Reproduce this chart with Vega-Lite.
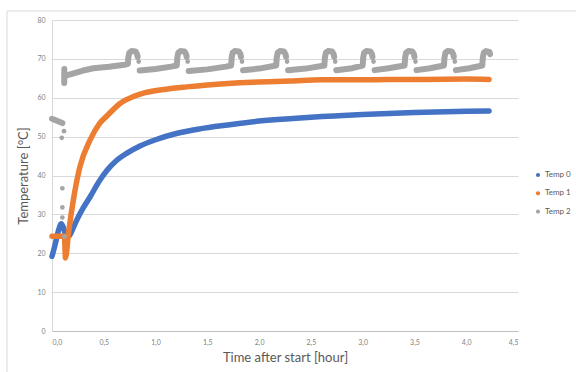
{
  "$schema": "https://vega.github.io/schema/vega-lite/v6.json",
  "width": 466,
  "height": 311,
  "autosize": {"type": "none"},
  "padding": {"left": 52, "top": 20, "right": 58, "bottom": 41},
  "background": "white",
  "config": {
    "view": {"stroke": null},
    "font": "Lato",
    "axis": {
      "labelFont": "Lato",
      "labelFontSize": 7,
      "labelColor": "#7F7F7F",
      "titleFont": "Lato",
      "titleFontSize": 13,
      "titleFontWeight": "normal",
      "titleColor": "#595959",
      "ticks": false
    }
  },
  "datasets": {
    "curves": [
      {"s": "Temp 0", "t": 0.0, "v": 19.2},
      {"s": "Temp 0", "t": 0.03, "v": 22.2},
      {"s": "Temp 0", "t": 0.06, "v": 25.6},
      {"s": "Temp 0", "t": 0.09, "v": 27.6},
      {"s": "Temp 0", "t": 0.11, "v": 26.6},
      {"s": "Temp 0", "t": 0.13, "v": 24.9},
      {"s": "Temp 0", "t": 0.15, "v": 24.3},
      {"s": "Temp 0", "t": 0.17, "v": 24.6},
      {"s": "Temp 0", "t": 0.2, "v": 26.2},
      {"s": "Temp 0", "t": 0.24, "v": 28.6},
      {"s": "Temp 0", "t": 0.3, "v": 31.6},
      {"s": "Temp 0", "t": 0.37, "v": 34.6},
      {"s": "Temp 0", "t": 0.45, "v": 38.3},
      {"s": "Temp 0", "t": 0.53, "v": 41.3},
      {"s": "Temp 0", "t": 0.62, "v": 43.8},
      {"s": "Temp 0", "t": 0.72, "v": 45.7},
      {"s": "Temp 0", "t": 0.85, "v": 47.6},
      {"s": "Temp 0", "t": 1.0, "v": 49.2},
      {"s": "Temp 0", "t": 1.2, "v": 50.8},
      {"s": "Temp 0", "t": 1.43, "v": 52.0},
      {"s": "Temp 0", "t": 1.7, "v": 53.0},
      {"s": "Temp 0", "t": 2.0, "v": 54.0},
      {"s": "Temp 0", "t": 2.5, "v": 55.0},
      {"s": "Temp 0", "t": 3.0, "v": 55.7},
      {"s": "Temp 0", "t": 3.5, "v": 56.2},
      {"s": "Temp 0", "t": 4.0, "v": 56.5},
      {"s": "Temp 0", "t": 4.22, "v": 56.6},
      {"s": "Temp 1", "t": 0.0, "v": 24.4},
      {"s": "Temp 1", "t": 0.06, "v": 24.4},
      {"s": "Temp 1", "t": 0.12, "v": 24.4},
      {"s": "Temp 1", "t": 0.13, "v": 18.8},
      {"s": "Temp 1", "t": 0.16, "v": 25.3},
      {"s": "Temp 1", "t": 0.206, "v": 33.7},
      {"s": "Temp 1", "t": 0.27, "v": 42.3},
      {"s": "Temp 1", "t": 0.367, "v": 49.1},
      {"s": "Temp 1", "t": 0.46, "v": 53.4},
      {"s": "Temp 1", "t": 0.53, "v": 55.3},
      {"s": "Temp 1", "t": 0.66, "v": 58.6},
      {"s": "Temp 1", "t": 0.785, "v": 60.3},
      {"s": "Temp 1", "t": 0.9, "v": 61.3},
      {"s": "Temp 1", "t": 1.1, "v": 62.2},
      {"s": "Temp 1", "t": 1.3, "v": 62.8},
      {"s": "Temp 1", "t": 1.5, "v": 63.3},
      {"s": "Temp 1", "t": 1.94, "v": 64.0},
      {"s": "Temp 1", "t": 2.3, "v": 64.3},
      {"s": "Temp 1", "t": 2.6, "v": 64.6},
      {"s": "Temp 1", "t": 3.0, "v": 64.6},
      {"s": "Temp 1", "t": 3.25, "v": 64.7},
      {"s": "Temp 1", "t": 3.6, "v": 64.7},
      {"s": "Temp 1", "t": 4.0, "v": 64.8},
      {"s": "Temp 1", "t": 4.22, "v": 64.7}
    ],
    "temp2": [
      {"s": "Temp 2", "g": 0, "t": 0.0, "v": 54.6},
      {"s": "Temp 2", "g": 0, "t": 0.1, "v": 53.5},
      {"s": "Temp 2", "g": 1, "t": 0.118, "v": 63.8},
      {"s": "Temp 2", "g": 1, "t": 0.119, "v": 67.4},
      {"s": "Temp 2", "g": 2, "t": 0.125, "v": 65.6},
      {"s": "Temp 2", "g": 2, "t": 0.2, "v": 66.2},
      {"s": "Temp 2", "g": 2, "t": 0.3, "v": 67.0},
      {"s": "Temp 2", "g": 2, "t": 0.4, "v": 67.6},
      {"s": "Temp 2", "g": 2, "t": 0.55, "v": 68.0},
      {"s": "Temp 2", "g": 2, "t": 0.7, "v": 68.5},
      {"s": "Temp 2", "g": 2, "t": 0.732, "v": 68.7},
      {"s": "Temp 2", "g": 2, "t": 0.737, "v": 70.3},
      {"s": "Temp 2", "g": 2, "t": 0.747, "v": 71.6},
      {"s": "Temp 2", "g": 2, "t": 0.767, "v": 72.0},
      {"s": "Temp 2", "g": 2, "t": 0.807, "v": 71.9},
      {"s": "Temp 2", "g": 2, "t": 0.822, "v": 71.2},
      {"s": "Temp 2", "g": 2, "t": 0.827, "v": 70.5},
      {"s": "Temp 2", "g": 3, "t": 0.847, "v": 67.0},
      {"s": "Temp 2", "g": 3, "t": 1.0, "v": 67.4},
      {"s": "Temp 2", "g": 3, "t": 1.15, "v": 68.0},
      {"s": "Temp 2", "g": 3, "t": 1.205, "v": 68.3},
      {"s": "Temp 2", "g": 3, "t": 1.21, "v": 70.3},
      {"s": "Temp 2", "g": 3, "t": 1.22, "v": 71.6},
      {"s": "Temp 2", "g": 3, "t": 1.24, "v": 72.0},
      {"s": "Temp 2", "g": 3, "t": 1.28, "v": 71.9},
      {"s": "Temp 2", "g": 3, "t": 1.295, "v": 71.2},
      {"s": "Temp 2", "g": 3, "t": 1.3, "v": 70.5},
      {"s": "Temp 2", "g": 4, "t": 1.32, "v": 66.9},
      {"s": "Temp 2", "g": 4, "t": 1.5, "v": 67.3},
      {"s": "Temp 2", "g": 4, "t": 1.68, "v": 68.0},
      {"s": "Temp 2", "g": 4, "t": 1.73, "v": 68.3},
      {"s": "Temp 2", "g": 4, "t": 1.735, "v": 70.3},
      {"s": "Temp 2", "g": 4, "t": 1.745, "v": 71.6},
      {"s": "Temp 2", "g": 4, "t": 1.765, "v": 72.0},
      {"s": "Temp 2", "g": 4, "t": 1.805, "v": 71.9},
      {"s": "Temp 2", "g": 4, "t": 1.82, "v": 71.2},
      {"s": "Temp 2", "g": 4, "t": 1.825, "v": 70.5},
      {"s": "Temp 2", "g": 5, "t": 1.845, "v": 67.1},
      {"s": "Temp 2", "g": 5, "t": 2.0, "v": 67.5},
      {"s": "Temp 2", "g": 5, "t": 2.165, "v": 68.3},
      {"s": "Temp 2", "g": 5, "t": 2.17, "v": 70.3},
      {"s": "Temp 2", "g": 5, "t": 2.18, "v": 71.6},
      {"s": "Temp 2", "g": 5, "t": 2.2, "v": 72.0},
      {"s": "Temp 2", "g": 5, "t": 2.24, "v": 71.9},
      {"s": "Temp 2", "g": 5, "t": 2.255, "v": 71.2},
      {"s": "Temp 2", "g": 5, "t": 2.26, "v": 70.5},
      {"s": "Temp 2", "g": 6, "t": 2.28, "v": 67.1},
      {"s": "Temp 2", "g": 6, "t": 2.45, "v": 67.5},
      {"s": "Temp 2", "g": 6, "t": 2.63, "v": 68.3},
      {"s": "Temp 2", "g": 6, "t": 2.635, "v": 70.3},
      {"s": "Temp 2", "g": 6, "t": 2.645, "v": 71.6},
      {"s": "Temp 2", "g": 6, "t": 2.665, "v": 72.0},
      {"s": "Temp 2", "g": 6, "t": 2.705, "v": 71.9},
      {"s": "Temp 2", "g": 6, "t": 2.72, "v": 71.2},
      {"s": "Temp 2", "g": 6, "t": 2.725, "v": 70.5},
      {"s": "Temp 2", "g": 7, "t": 2.745, "v": 67.1},
      {"s": "Temp 2", "g": 7, "t": 2.9, "v": 67.6},
      {"s": "Temp 2", "g": 7, "t": 3.0, "v": 68.3},
      {"s": "Temp 2", "g": 7, "t": 3.005, "v": 70.3},
      {"s": "Temp 2", "g": 7, "t": 3.015, "v": 71.6},
      {"s": "Temp 2", "g": 7, "t": 3.035, "v": 72.0},
      {"s": "Temp 2", "g": 7, "t": 3.075, "v": 71.9},
      {"s": "Temp 2", "g": 7, "t": 3.09, "v": 71.2},
      {"s": "Temp 2", "g": 7, "t": 3.095, "v": 70.5},
      {"s": "Temp 2", "g": 8, "t": 3.115, "v": 67.1},
      {"s": "Temp 2", "g": 8, "t": 3.25, "v": 67.6},
      {"s": "Temp 2", "g": 8, "t": 3.405, "v": 68.3},
      {"s": "Temp 2", "g": 8, "t": 3.41, "v": 70.3},
      {"s": "Temp 2", "g": 8, "t": 3.42, "v": 71.6},
      {"s": "Temp 2", "g": 8, "t": 3.44, "v": 72.0},
      {"s": "Temp 2", "g": 8, "t": 3.48, "v": 71.9},
      {"s": "Temp 2", "g": 8, "t": 3.495, "v": 71.2},
      {"s": "Temp 2", "g": 8, "t": 3.5, "v": 70.5},
      {"s": "Temp 2", "g": 9, "t": 3.52, "v": 67.1},
      {"s": "Temp 2", "g": 9, "t": 3.65, "v": 67.6},
      {"s": "Temp 2", "g": 9, "t": 3.785, "v": 68.3},
      {"s": "Temp 2", "g": 9, "t": 3.79, "v": 70.3},
      {"s": "Temp 2", "g": 9, "t": 3.8, "v": 71.6},
      {"s": "Temp 2", "g": 9, "t": 3.82, "v": 72.0},
      {"s": "Temp 2", "g": 9, "t": 3.86, "v": 71.9},
      {"s": "Temp 2", "g": 9, "t": 3.875, "v": 71.2},
      {"s": "Temp 2", "g": 9, "t": 3.88, "v": 70.5},
      {"s": "Temp 2", "g": 10, "t": 3.9, "v": 67.1},
      {"s": "Temp 2", "g": 10, "t": 4.03, "v": 67.6},
      {"s": "Temp 2", "g": 10, "t": 4.155, "v": 68.3},
      {"s": "Temp 2", "g": 10, "t": 4.16, "v": 70.3},
      {"s": "Temp 2", "g": 10, "t": 4.17, "v": 71.6},
      {"s": "Temp 2", "g": 10, "t": 4.19, "v": 72.0},
      {"s": "Temp 2", "g": 10, "t": 4.225, "v": 71.8},
      {"s": "Temp 2", "g": 10, "t": 4.23, "v": 71.2}
    ],
    "temp2dots": [
      {"s": "Temp 2", "t": 0.094, "v": 49.7},
      {"s": "Temp 2", "t": 0.116, "v": 51.4},
      {"s": "Temp 2", "t": 0.1, "v": 36.7},
      {"s": "Temp 2", "t": 0.1, "v": 31.8},
      {"s": "Temp 2", "t": 0.1, "v": 29.2},
      {"s": "Temp 2", "t": 0.12, "v": 24.3},
      {"s": "Temp 2", "t": 0.837, "v": 69.3},
      {"s": "Temp 2", "t": 1.31, "v": 69.3},
      {"s": "Temp 2", "t": 1.835, "v": 69.3},
      {"s": "Temp 2", "t": 2.27, "v": 69.3},
      {"s": "Temp 2", "t": 2.735, "v": 69.3},
      {"s": "Temp 2", "t": 3.105, "v": 69.3},
      {"s": "Temp 2", "t": 3.51, "v": 69.3},
      {"s": "Temp 2", "t": 3.89, "v": 69.3}
    ],
    "frame": [
      {"edge": "left", "x1": -0.4346, "x2": -0.4346, "y1": 82.32, "y2": -10.6},
      {"edge": "top", "x1": -0.4346, "x2": 5.07, "y1": 82.32, "y2": 82.32}
    ]
  },
  "encoding": {
    "x": {
      "field": "t",
      "type": "quantitative",
      "scale": {"domain": [0, 4.5], "nice": false},
      "axis": {
        "title": "Time after start [hour]",
        "values": [0, 0.5, 1, 1.5, 2, 2.5, 3, 3.5, 4, 4.5],
        "labelExpr": "replace(format(datum.value, '.1f'), '.', ',')",
        "grid": false,
        "domainColor": "#BFBFBF",
        "labelPadding": 7,
        "titlePadding": 6
      }
    },
    "y": {
      "field": "v",
      "type": "quantitative",
      "scale": {"domain": [0, 80], "nice": false},
      "axis": {
        "title": "Temperature [°C]",
        "values": [0, 10, 20, 30, 40, 50, 60, 70, 80],
        "grid": true,
        "gridColor": "#D9D9D9",
        "domainColor": "#D9D9D9",
        "labelPadding": 7,
        "titlePadding": 6
      }
    }
  },
  "layer": [
    {
      "data": {"name": "frame"},
      "mark": {"type": "rule", "color": "#D9D9D9", "strokeWidth": 1, "clip": false},
      "encoding": {
        "x": {"field": "x1", "type": "quantitative"},
        "x2": {"field": "x2"},
        "y": {"field": "y1", "type": "quantitative"},
        "y2": {"field": "y2"}
      }
    },
    {
      "data": {"name": "curves"},
      "transform": [{"filter": "datum.s === 'Temp 0'"}],
      "mark": {"type": "line", "color": "#4472C4", "interpolate": "monotone", "strokeWidth": 5.5, "strokeCap": "round", "strokeJoin": "round"}
    },
    {
      "data": {"name": "curves"},
      "transform": [{"filter": "datum.s === 'Temp 1'"}],
      "mark": {"type": "line", "color": "#ED7D31", "interpolate": "monotone", "strokeWidth": 5.5, "strokeCap": "round", "strokeJoin": "round"}
    },
    {
      "data": {"name": "temp2"},
      "mark": {"type": "line", "color": "#A5A5A5", "strokeWidth": 6, "strokeCap": "round", "strokeJoin": "round"},
      "encoding": {"detail": {"field": "g", "type": "nominal"}}
    },
    {
      "data": {"name": "temp2dots"},
      "mark": {"type": "circle", "size": 22, "opacity": 1},
      "encoding": {
        "color": {
          "field": "s",
          "type": "nominal",
          "scale": {
            "domain": ["Temp 0", "Temp 1", "Temp 2"],
            "range": ["#4472C4", "#ED7D31", "#A5A5A5"]
          },
          "legend": {
            "title": null,
            "orient": "none",
            "legendX": 482,
            "legendY": 151,
            "symbolType": "circle",
            "symbolSize": 18,
            "labelFont": "Lato",
            "labelFontSize": 8,
            "labelColor": "#595959",
            "rowPadding": 10.3,
            "labelOffset": 3
          }
        }
      }
    }
  ]
}
